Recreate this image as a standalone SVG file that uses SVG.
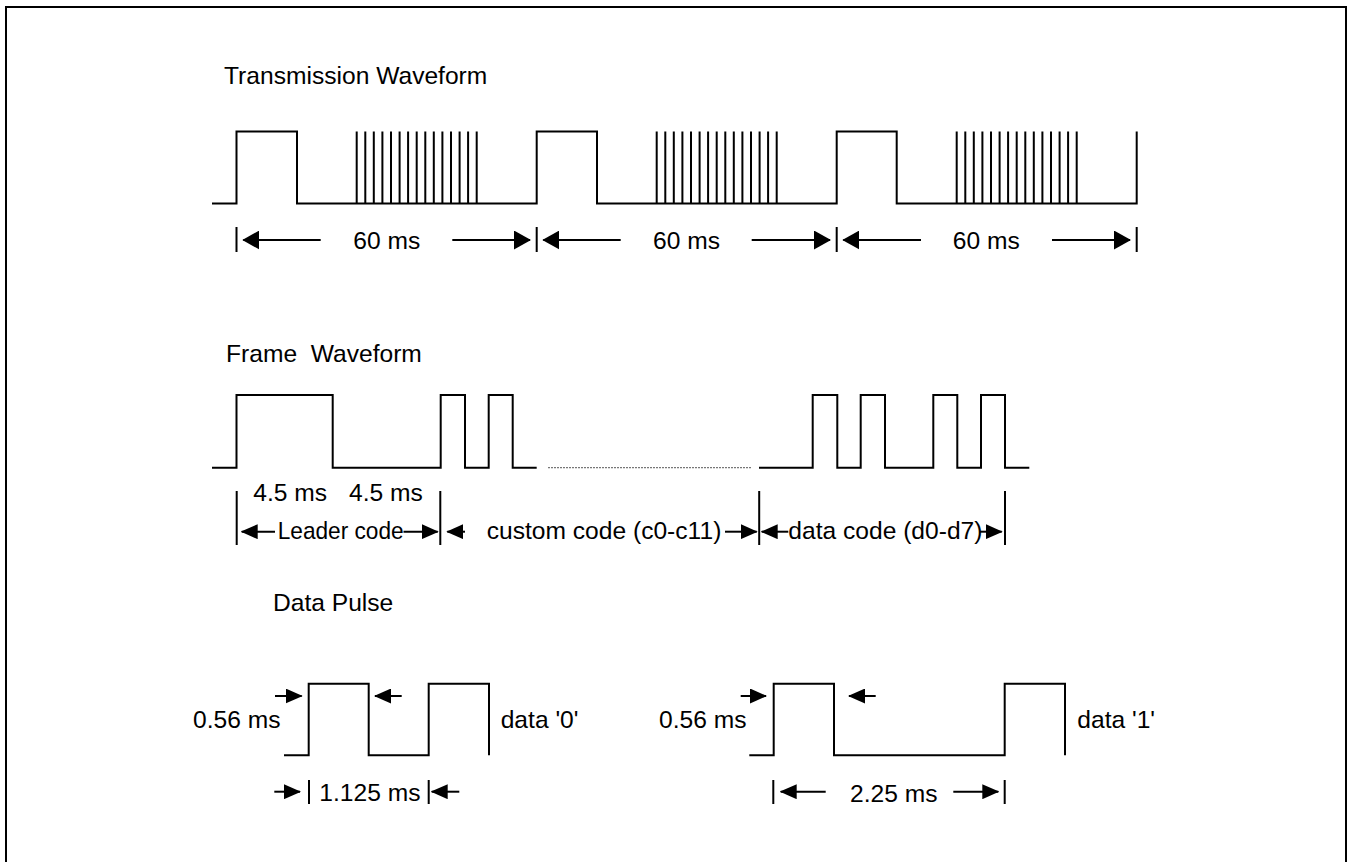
<svg xmlns="http://www.w3.org/2000/svg" xmlns:xlink="http://www.w3.org/1999/xlink" width="1347" height="862" viewBox="0 0 1347 862">
<style>
text{font-family:"Liberation Sans",Arial,sans-serif;font-size:24.6px;fill:#000}
.w{fill:none;stroke:#000;stroke-width:2}
.t{stroke:#000;stroke-width:2}
.a{stroke:#000;stroke-width:2;marker-end:url(#ah)}
.A{stroke:#000;stroke-width:2;marker-end:url(#ahB)}
.d{stroke:#777;stroke-width:1.2;stroke-dasharray:2 1}
</style>
<defs>
<marker id="ah" markerUnits="userSpaceOnUse" viewBox="0 0 17 15" refX="16" refY="7.5" markerWidth="17" markerHeight="15" orient="auto"><path d="M0,0 L17,7.5 L0,15 z" fill="#000"/></marker>
<marker id="ahB" markerUnits="userSpaceOnUse" viewBox="0 0 17 19" refX="16" refY="9.5" markerWidth="17" markerHeight="19" orient="auto"><path d="M0,0 L17,9.5 L0,19 z" fill="#000"/></marker>
<path id="spk" class="w" d="M356.7,203.5V131.5M365.3,203.5V131.5M373.8,203.5V131.5M382.4,203.5V131.5M391,203.5V131.5M399.6,203.5V131.5M408.1,203.5V131.5M416.7,203.5V131.5M425.3,203.5V131.5M433.8,203.5V131.5M442.4,203.5V131.5M451,203.5V131.5M459.6,203.5V131.5M468.1,203.5V131.5M476.7,203.5V131.5"/>
</defs>
<rect x="6" y="7" width="1340" height="870" fill="#fff" stroke="#000" stroke-width="2"/>

<g id="transmission">
<text x="224" y="83.5">Transmission Waveform</text>
<path class="w" d="M212,203.5H236.5V131.5H297V203.5H536.7V131.5H597V203.5H836.7V131.5H896.7V203.5H1136.7V131.5"/>
<use xlink:href="#spk"/>
<use xlink:href="#spk" transform="translate(300,0)"/>
<use xlink:href="#spk" transform="translate(600,0)"/>
<text x="386.7" y="249.3" text-anchor="middle">60 ms</text>
<text x="686.5" y="249.3" text-anchor="middle">60 ms</text>
<text x="986.3" y="249.3" text-anchor="middle">60 ms</text>
</g>

<g id="frame">
<text x="226" y="362" xml:space="preserve">Frame  Waveform</text>
<path class="w" d="M212,467.7H236.5V395H332.7V467.7H440.7V395H465V467.7H488.7V395H512.7V467.7H536.7"/>
<path class="d" d="M548,467.7H752"/>
<path class="w" d="M759,467.7H812.7V395H837.3V467.7H860.7V395H885V467.7H933.3V395H957.3V467.7H981V395H1005V467.7H1029.3"/>
<text x="253.3" y="501.3">4.5 ms</text>
<text x="349" y="501.3">4.5 ms</text>
<text x="277.7" y="539" textLength="126" lengthAdjust="spacingAndGlyphs">Leader code</text>
<text x="486.7" y="539">custom code (c0-c11)</text>
<text x="788.3" y="539">data code (d0-d7)</text>
</g>

<g id="datapulse">
<text x="273" y="611">Data Pulse</text>
<path class="w" d="M284,755.3H308.7V683.7H368.7V755.3H428.7V683.7H489V755.3"/>
<path class="w" d="M749.3,755.3H773.7V683.7H834V755.3H1004.7V683.7H1065V755.3"/>
<text x="193" y="728.3">0.56 ms</text>
<text x="500.7" y="728.3">data '0'</text>
<text x="659" y="728.3">0.56 ms</text>
<text x="1077.3" y="728.3">data '1'</text>
<text x="319.3" y="801">1.125 ms</text>
<text x="850" y="802">2.25 ms</text>
</g>

<g id="connectors">
<path class="t" d="M236.5,227V252M536.7,227V252M836.7,227V252M1136.7,227V252"/>
<line class="A" x1="320.7" y1="240" x2="243.3" y2="240"/>
<line class="A" x1="452.3" y1="240" x2="530" y2="240"/>
<line class="A" x1="620.7" y1="240" x2="543.3" y2="240"/>
<line class="A" x1="751.7" y1="240" x2="830" y2="240"/>
<line class="A" x1="921" y1="240" x2="843.3" y2="240"/>
<line class="A" x1="1052" y1="240" x2="1130" y2="240"/>
<path class="t" d="M236.7,491V545M440.3,491V545M759.2,491V545M1005,491V545"/>
<line class="a" x1="275" y1="531.7" x2="241.7" y2="531.7"/>
<line class="a" x1="403.5" y1="531.7" x2="437.7" y2="531.7"/>
<line class="a" x1="465" y1="531.7" x2="447.3" y2="531.7"/>
<line class="a" x1="725" y1="531.7" x2="756.7" y2="531.7"/>
<line class="a" x1="788.3" y1="531.7" x2="761.7" y2="531.7"/>
<line class="a" x1="980" y1="531.7" x2="1001.7" y2="531.7"/>
<line class="a" x1="275" y1="696" x2="301.7" y2="696"/>
<line class="a" x1="401.7" y1="696" x2="375" y2="696"/>
<line class="a" x1="740.7" y1="696" x2="766" y2="696"/>
<line class="a" x1="875.7" y1="696" x2="849" y2="696"/>
<path class="t" d="M309,780V804M428.7,780V804M773.3,780V804M1004.7,780V804"/>
<line class="a" x1="274.3" y1="791.7" x2="300" y2="791.7"/>
<line class="a" x1="459.3" y1="791.7" x2="431.7" y2="791.7"/>
<line class="a" x1="825.7" y1="791.7" x2="780.7" y2="791.7"/>
<line class="a" x1="953.3" y1="791.7" x2="998.3" y2="791.7"/>
</g>
</svg>
